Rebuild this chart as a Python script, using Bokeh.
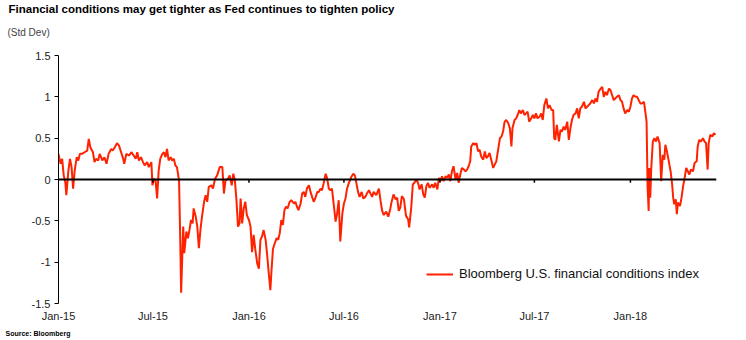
import numpy as np
import pandas as pd
from datetime import datetime
from bokeh.plotting import figure
from bokeh.models import (Range1d, FixedTicker, DatetimeTickFormatter, Span, Title,
                          Legend, LegendItem)
from bokeh.embed import file_html
from bokeh.resources import INLINE

# ---- data ----
start_date = "2015-01-01"
# days since 2015-01-01
days = [0, 4, 7, 10, 13, 15, 19, 22, 25, 28, 31, 35, 38, 41, 45, 50, 55, 58, 61, 66, 69, 72, 76, 79, 84, 88, 92, 96,
        101, 104, 108, 112, 116, 120, 124, 126, 130, 135, 140, 144, 148, 151, 154, 158, 162, 165, 170, 173, 178, 180,
        183, 186, 189, 192, 195, 199, 202, 205, 208, 211, 215, 218, 221, 224, 227, 231, 233, 235, 237, 239, 241, 245,
        248, 251, 254, 257, 259, 263, 266, 269, 272, 275, 279, 282, 285, 288, 293, 296, 300, 304, 309,
        314, 317, 320, 325, 328, 332, 335, 338, 341, 344, 347, 349, 352, 355, 358, 361, 365, 368, 371, 374, 377, 381,
        384, 387, 390, 393, 397, 400, 403, 406, 408, 411, 414, 418, 421, 424, 427, 430, 433, 436, 439, 443, 446, 451,
        454, 457, 460, 464, 467, 470, 473, 476, 480, 483, 486, 489, 492, 496, 499, 502, 505, 508, 512, 515, 518, 521,
        524, 528, 531, 534, 537, 540, 544, 547, 550, 553, 556, 561, 565, 568, 571, 574, 577, 581, 584, 588, 591, 595,
        598, 601, 604, 609, 614, 617, 620, 623, 628, 632, 636,
        638, 642, 646, 649, 652, 655, 658, 662, 666, 670, 672, 676, 679, 682, 686, 689, 692, 696, 699, 702, 705, 708,
        711, 716, 719, 722, 726, 729, 732, 735, 738, 742, 745, 748, 751, 754, 757, 761, 764, 767, 770, 773, 777, 780,
        783, 786, 789, 791, 795, 798, 801, 804, 807, 810, 814, 817, 820, 823, 826, 830, 833, 836, 839, 842, 846, 849,
        852, 855, 858, 862, 865, 868, 870, 874, 877, 880, 883, 886, 890, 893, 896, 899, 902, 906, 909, 912, 915, 918,
        922, 925, 928, 931, 935, 938, 941, 945, 948, 950, 952,
        955, 959, 962, 965, 968, 971, 975, 978, 981, 984, 987, 991, 994, 997, 1000, 1003, 1007, 1010, 1013, 1016,
        1019, 1023, 1026, 1029, 1032, 1035, 1039, 1042, 1045, 1048, 1051, 1055, 1058, 1061, 1064, 1067, 1070, 1074,
        1077, 1080, 1083, 1086, 1090, 1093, 1096, 1099, 1102, 1106, 1109, 1112, 1115, 1118, 1122, 1125, 1127, 1128,
        1129, 1131, 1132, 1134, 1136, 1139, 1142, 1145, 1148, 1152, 1155, 1158, 1161, 1163, 1166, 1169, 1173, 1176,
        1178, 1180, 1183, 1185, 1187, 1191, 1194, 1197, 1200, 1203, 1206, 1209, 1212, 1216, 1219, 1223, 1225, 1228,
        1231, 1235, 1238, 1241, 1244, 1246, 1249, 1253, 1256, 1259]
fci = [0.31, 0.19, 0.25, 0.05, -0.03, -0.19, 0.11, 0.25, 0.15, -0.11, 0.11, 0.27, 0.23, 0.31, 0.31, 0.33, 0.35, 0.49,
       0.39, 0.33, 0.21, 0.25, 0.23, 0.31, 0.23, 0.27, 0.19, 0.31, 0.37, 0.35, 0.39, 0.44, 0.41, 0.33, 0.25, 0.19,
       0.31, 0.29, 0.33, 0.29, 0.25, 0.33, 0.23, 0.27, 0.21, 0.17, 0.21, 0.15, 0.21, -0.07, 0.01, -0.01, -0.23, 0.11,
       0.25, 0.31, 0.33, 0.27, 0.37, 0.23, 0.27, 0.23, 0.25, 0.17, 0.15, -0.01, -0.61, -1.37, -0.97, -0.57, -0.89,
       -0.63, -0.71, -0.61, -0.49, -0.53, -0.35, -0.45, -0.57, -0.83, -0.61, -0.45, -0.27, -0.19, -0.27, -0.09,
       -0.07, -0.11, 0.01, 0.05, 0.15,
       0.15, -0.17, -0.01, 0.01, 0.05, -0.07, 0.07, -0.01, -0.25, -0.57, -0.53, -0.23, -0.53, -0.35, -0.27, -0.43,
       -0.49, -0.57, -0.88, -0.67, -0.84, -1.02, -1.08, -0.73, -0.69, -0.61, -0.73, -0.92, -1.14, -1.34, -1.12,
       -0.84, -0.78, -0.71, -0.73, -0.65, -0.49, -0.55, -0.37, -0.33, -0.35, -0.27, -0.25, -0.29, -0.27, -0.33,
       -0.37, -0.29, -0.17, -0.15, -0.21, -0.11, -0.07, -0.15, -0.21, -0.27, -0.23, -0.15, -0.15, -0.11, -0.13,
       -0.05, 0.07, 0.01, -0.11, -0.13, -0.11, -0.33, -0.51, -0.41, -0.25, -0.75, -0.41, -0.29, -0.23, -0.11, -0.05,
       0.03, 0.07, 0.05, -0.05, -0.15, -0.21, -0.15, -0.23, -0.21, -0.17, -0.13, -0.17, -0.21, -0.15, -0.19, -0.11,
       -0.25, -0.37, -0.43, -0.39, -0.45, -0.35,
       -0.28, -0.18, -0.24, -0.22, -0.38, -0.34, -0.20, -0.24, -0.44, -0.48, -0.58, -0.34, -0.06, -0.04, 0.0, -0.04,
       -0.12, -0.06, -0.18, -0.22, -0.08, -0.04, -0.10, -0.06, -0.10, -0.04, -0.12, 0.02, -0.02, 0.04, -0.02, 0.04,
       0.02, 0.06, -0.02, 0.10, 0.16, 0.0, 0.08, -0.04, 0.06, 0.14, 0.12, 0.10, 0.12, 0.16, 0.22, 0.40, 0.44, 0.42,
       0.44, 0.34, 0.36, 0.28, 0.24, 0.34, 0.26, 0.28, 0.32, 0.22, 0.14, 0.18, 0.22, 0.34, 0.50, 0.52, 0.58, 0.70,
       0.72, 0.68, 0.62, 0.40, 0.62, 0.72, 0.74, 0.78, 0.84, 0.80, 0.84, 0.78, 0.80, 0.82, 0.70, 0.74, 0.78, 0.74,
       0.80, 0.74, 0.76, 0.80, 0.72, 0.90, 0.98, 0.86, 0.90, 0.84, 0.84, 0.50, 0.48,
       0.66, 0.46, 0.60, 0.58, 0.64, 0.60, 0.70, 0.48, 0.62, 0.72, 0.78, 0.80, 0.86, 0.74, 0.86, 0.88, 0.94, 0.86,
       0.88, 0.90, 0.92, 0.96, 0.92, 0.98, 0.94, 1.06, 1.10, 1.12, 1.00, 1.06, 1.02, 1.10, 1.08, 1.02, 0.96, 0.98,
       1.00, 1.02, 0.96, 0.94, 0.86, 0.80, 0.84, 0.82, 0.88, 0.98, 1.02, 1.00, 1.00, 0.96, 0.92, 0.92, 0.94, 0.80,
       0.70, 0.30, -0.10, -0.38, 0.14, -0.22, 0.14, 0.46, 0.50, 0.46, 0.52, 0.44, -0.02, 0.30, 0.24, 0.42, 0.34,
       0.24, 0.10, -0.06, -0.22, -0.30, -0.24, -0.42, -0.28, -0.32, -0.22, -0.08, 0.02, 0.14, 0.10, 0.06, 0.12, 0.10,
       0.20, 0.22, 0.40, 0.48, 0.46, 0.50, 0.46, 0.44, 0.12, 0.44, 0.54, 0.52, 0.56, 0.54]

x_tick_dates = ["2015-01-01", "2015-07-01", "2016-01-01", "2016-07-01", "2017-01-01", "2017-07-01", "2018-01-01"]
x_tick_labels = ["Jan-15", "Jul-15", "Jan-16", "Jul-16", "Jan-17", "Jul-17", "Jan-18"]
y_ticks = [-1.5, -1.0, -0.5, 0.0, 0.5, 1.0, 1.5]
y_tick_labels = ["-1.5", "-1", "-0.5", "0", "0.5", "1", "1.5"]

title_text = "Financial conditions may get tighter as Fed continues to tighten policy"
unit_text = "(Std Dev)"
source_text = "Source: Bloomberg"
series_name = "Bloomberg U.S. financial conditions index"

# ---- build ----
dates = pd.Timestamp(start_date) + pd.to_timedelta(days, unit="D")
FONT = "Liberation Sans"
RED = "#FF2200"

p = figure(width=746, height=340, output_backend="svg", toolbar_location=None,
           x_axis_type="datetime",
           x_range=Range1d(datetime(2015, 1, 1), datetime(2018, 6, 15)),
           y_range=Range1d(-1.5, 1.5),
           min_border_left=58, min_border_right=30, min_border_top=0, min_border_bottom=0)
p.outline_line_color = None
p.grid.visible = False
p.background_fill_color = "white"

r = p.line(dates, fci, line_color=RED, line_width=2)

p.add_layout(Span(location=0, dimension="width", line_color="black", line_width=2))
tick_ts = [pd.Timestamp(d) for d in x_tick_dates]
p.segment(x0=tick_ts[1:], y0=[0] * 6, x1=tick_ts[1:], y1=[-0.04] * 6, line_color="black", line_width=1.5)

# x axis
tick_ms = [pd.Timestamp(d).value // 10**6 for d in x_tick_dates]
xa = p.xaxis[0]
xa.ticker = FixedTicker(ticks=tick_ms)
xa.formatter = DatetimeTickFormatter(months="%b-%y", days="%b-%y", years="%b-%y")
xa.major_label_overrides = dict(zip(tick_ms, x_tick_labels))
xa.axis_line_color = None
xa.major_tick_line_color = None
xa.minor_tick_line_color = None
xa.major_tick_out = 0
xa.major_label_standoff = 6
xa.major_label_text_font = FONT
xa.major_label_text_font_size = "11px"
xa.major_label_text_color = "#222222"

# y axis
ya = p.yaxis[0]
ya.ticker = FixedTicker(ticks=y_ticks)
ya.major_label_overrides = dict(zip(y_ticks, y_tick_labels))
ya.axis_line_color = "black"
ya.axis_line_width = 1
ya.major_tick_line_color = "black"
ya.major_tick_out = 4
ya.major_tick_in = 0
ya.minor_tick_line_color = None
ya.major_label_standoff = 4
ya.major_label_text_font = FONT
ya.major_label_text_font_size = "11px"
ya.major_label_text_color = "#222222"

# legend
legend = Legend(items=[LegendItem(label=series_name, renderers=[r])], location=(368, 22),
                background_fill_alpha=0, border_line_color=None, padding=0, margin=0, spacing=0,
                glyph_width=27, glyph_height=14, label_height=14, label_standoff=6,
                label_text_font=FONT, label_text_font_size="13px", label_text_color="#111111")
p.add_layout(legend)

# titles (first added sits nearest the frame)
p.title.visible = False
t_space = Title(text=" ", align="left", offset=0, standoff=4, text_font=FONT, text_font_size="1px")
t_unit = Title(text=unit_text, align="left", offset=-51, standoff=21,
               text_font=FONT, text_font_size="10px", text_font_style="normal", text_color="#444444")
t_main = Title(text=title_text, align="left", offset=-50, standoff=0,
               text_font=FONT, text_font_size="11.5px", text_font_style="bold", text_color="#000000")
p.add_layout(t_space, "above")
p.add_layout(t_unit, "above")
p.add_layout(t_main, "above")
t_src = Title(text=source_text, align="left", offset=-53, standoff=7,
              text_font=FONT, text_font_size="7px", text_font_style="bold", text_color="#000000")
p.add_layout(t_src, "below")

open("out.html", "w").write(file_html(p, INLINE))
